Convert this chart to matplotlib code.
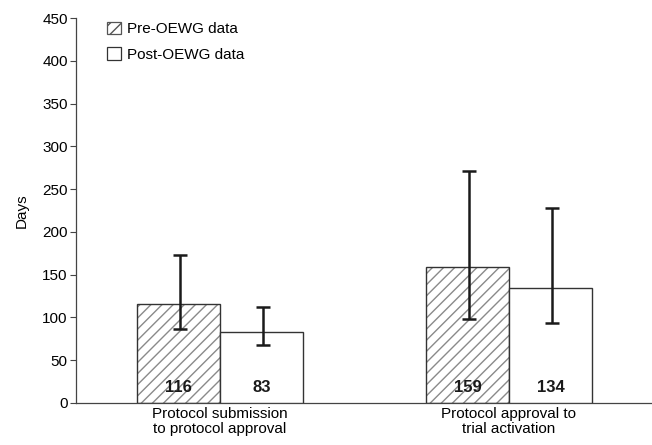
import matplotlib.pyplot as plt
import numpy as np
from matplotlib.patches import Patch

plt.rcParams['font.family'] = ['Liberation Sans', 'DejaVu Sans']

# data
categories = ["Protocol submission\nto protocol approval",
              "Protocol approval to\ntrial activation"]
pre_vals = [116, 159]
post_vals = [83, 134]
pre_low = [87, 98]
pre_high = [173, 271]
post_low = [68, 94]
post_high = [112, 228]

fig = plt.figure(figsize=(6.52, 4.45), dpi=100)
ax = fig.add_axes([76 / 652, 42 / 445, 1 - 76 / 652, (403 - 18) / 445])

x = np.arange(len(categories))
w = 0.287
edge = '#333333'

# hatched bars: hatch drawn in gray, outline drawn separately
ax.bar(x - w / 2, pre_vals, w, color='white', edgecolor='#8a8a8a',
       hatch='///', linewidth=0, zorder=2)
ax.bar(x - w / 2, pre_vals, w, fill=False, edgecolor=edge, linewidth=1.0, zorder=3)
ax.bar(x + w / 2, post_vals, w, color='white', edgecolor=edge, linewidth=1.0, zorder=3)

pre_err = [np.array(pre_vals) - np.array(pre_low), np.array(pre_high) - np.array(pre_vals)]
post_err = [np.array(post_vals) - np.array(post_low), np.array(post_high) - np.array(post_vals)]
ax.errorbar(x - w / 2 + 0.005, pre_vals, yerr=pre_err, fmt='none', ecolor='#1a1a1a',
            elinewidth=1.8, capsize=5, capthick=1.8, zorder=4)
ax.errorbar(x + w / 2 + 0.005, post_vals, yerr=post_err, fmt='none', ecolor='#1a1a1a',
            elinewidth=1.8, capsize=5, capthick=1.8, zorder=4)

# value labels inside the bars
for i in range(len(categories)):
    ax.text(x[i] - w / 2, 18, str(pre_vals[i]), ha='center', va='center',
            fontsize=12, fontweight='bold', color='#1a1a1a', zorder=5)
    ax.text(x[i] + w / 2, 18, str(post_vals[i]), ha='center', va='center',
            fontsize=12, fontweight='bold', color='#1a1a1a', zorder=5)

ax.set_xlim(-0.498, 1.495)
ax.set_ylim(0, 450)
ax.set_yticks(np.arange(0, 451, 50))
ax.set_xticks(x)
ax.set_xticklabels(categories, fontsize=11, linespacing=1.05)
ax.tick_params(axis='x', length=0, pad=3)
ax.tick_params(axis='y', length=4, width=0.8, color='#444444', labelsize=11, pad=2)
ax.set_ylabel("Days", fontsize=11, labelpad=10)

for s in ['top', 'right']:
    ax.spines[s].set_visible(False)
ax.spines['left'].set_color('#444444')
ax.spines['bottom'].set_color('#444444')
ax.spines['left'].set_linewidth(0.9)
ax.spines['bottom'].set_linewidth(0.9)

# legend
handles = [Patch(facecolor='white', edgecolor='#555555', hatch='///', linewidth=0.9),
           Patch(facecolor='white', edgecolor=edge, linewidth=0.9)]
leg = ax.legend(handles, ["Pre-OEWG data", "Post-OEWG data"], loc='upper left',
                bbox_to_anchor=(0.038, 1.014), frameon=False, fontsize=11,
                handlelength=0.9, handleheight=0.9, handletextpad=0.4,
                labelspacing=0.7, borderaxespad=0.2)

fig.savefig("out.png", dpi=100)
